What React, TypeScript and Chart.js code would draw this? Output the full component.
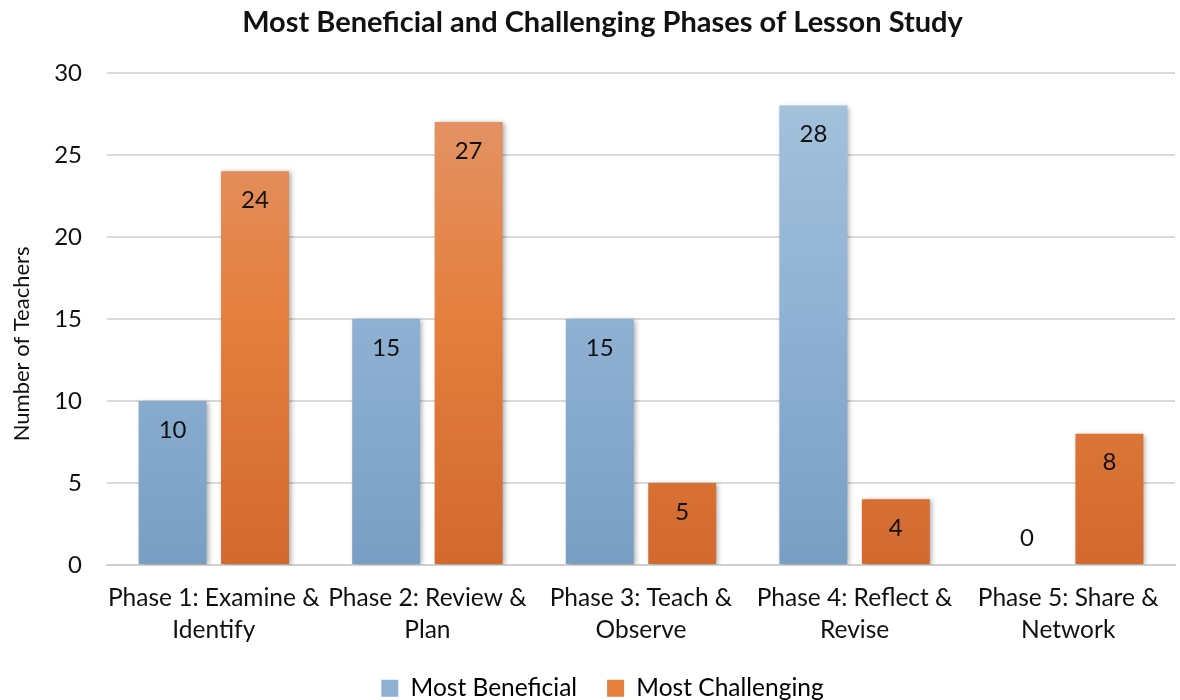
import React, { useEffect, useRef } from "react";
import { Chart, registerables } from "chart.js";

Chart.register(...registerables);

const categories: string[][] = [
  ["Phase 1: Examine &", "Identify"],
  ["Phase 2: Review &", "Plan"],
  ["Phase 3: Teach &", "Observe"],
  ["Phase 4: Reflect &", "Revise"],
  ["Phase 5: Share &", "Network"],
];
const mostBeneficial: number[] = [10, 15, 15, 28, 0];
const mostChallenging: number[] = [24, 27, 5, 4, 8];
const yTicks: number[] = [0, 5, 10, 15, 20, 25, 30];
const yTitle = "Number of Teachers";

const FONT = "Lato, 'Open Sans', sans-serif";

function makeGradient(ctx: any, area: any, top: string, mid: string, bottom: string) {
  const g = ctx.createLinearGradient(0, area.top, 0, area.bottom);
  g.addColorStop(0, top);
  g.addColorStop(0.5, mid);
  g.addColorStop(1, bottom);
  return g;
}

const shadowPlugin = {
  id: "barShadow",
  beforeDatasetsDraw(chart: any) {
    const ctx = chart.ctx;
    ctx.save();
    ctx.shadowColor = "rgba(0,0,0,0.35)";
    ctx.shadowBlur = 5;
    ctx.shadowOffsetX = 2;
    ctx.shadowOffsetY = 1;
  },
  afterDatasetsDraw(chart: any) {
    chart.ctx.restore();
  },
};

const labelPlugin = {
  id: "barLabels",
  afterDatasetsDraw(chart: any) {
    const ctx = chart.ctx;
    ctx.save();
    ctx.font = `24px ${FONT}`;
    ctx.fillStyle = "#111";
    ctx.textAlign = "center";
    ctx.textBaseline = "middle";
    chart.data.datasets.forEach((ds: any, i: number) => {
      const meta = chart.getDatasetMeta(i);
      meta.data.forEach((bar: any, j: number) => {
        const v = ds.data[j];
        const y = v > 0 ? bar.y + 29 : bar.base - 27;
        ctx.fillText(String(v), bar.x, y);
      });
    });
    ctx.restore();
  },
};

const yTitlePlugin = {
  id: "yTitle",
  afterDraw(chart: any) {
    const ctx = chart.ctx;
    const area = chart.chartArea;
    ctx.save();
    ctx.font = `22px ${FONT}`;
    ctx.fillStyle = "#111";
    ctx.textAlign = "center";
    ctx.textBaseline = "middle";
    ctx.translate(22, (area.top + area.bottom) / 2 + 25);
    ctx.rotate(-Math.PI / 2);
    ctx.fillText(yTitle, 0, 0);
    ctx.restore();
  },
};

export default function App() {
  const ref = useRef<HTMLCanvasElement | null>(null);
  useEffect(() => {
    if (!ref.current) return;
    const chart = new Chart(ref.current, {
      type: "bar",
      data: {
        labels: categories,
        datasets: [
          {
            label: "Most Beneficial",
            data: mostBeneficial,
            backgroundColor: (c: any) => {
              const area = c.chart.chartArea;
              if (!area) return "#8FB1D3";
              return makeGradient(c.chart.ctx, area, "#A5C3DC", "#8FB1D3", "#789FC3");
            },
            borderWidth: 0,
            categoryPercentage: 0.772,
            barPercentage: 0.824,
          },
          {
            label: "Most Challenging",
            data: mostChallenging,
            backgroundColor: (c: any) => {
              const area = c.chart.chartArea;
              if (!area) return "#E47F3E";
              return makeGradient(c.chart.ctx, area, "#E3966C", "#E47F3E", "#D2692F");
            },
            borderWidth: 0,
            categoryPercentage: 0.772,
            barPercentage: 0.824,
          },
        ],
      },
      options: {
        responsive: false,
        animation: false,
        layout: { padding: { left: 30, right: 5, top: 0, bottom: -10.5 } },
        plugins: {
          title: {
            display: true,
            text: "Most Beneficial and Challenging Phases of Lesson Study",
            font: { family: FONT, size: 29, weight: "bold" },
            color: "#111",
            padding: { top: 5, bottom: 33 },
          },
          legend: {
            position: "bottom",
            labels: {
              font: { family: FONT, size: 24.5 },
              color: "#111",
              boxWidth: 17,
              boxHeight: 17,
              padding: 30,
              generateLabels: (chart: any) => [
                { text: "Most Beneficial", fillStyle: "#8FB1D3", strokeStyle: "#8FB1D3", lineWidth: 0, datasetIndex: 0 },
                { text: "Most Challenging", fillStyle: "#E47F3E", strokeStyle: "#E47F3E", lineWidth: 0, datasetIndex: 1 },
              ],
            },
          },
          tooltip: { enabled: false },
        },
        scales: {
          x: {
            grid: { display: false, drawTicks: false },
            border: { display: true, color: "#D0D0D0", width: 2 },
            ticks: {
              font: { family: FONT, size: 24.5, lineHeight: 1.32 },
              color: "#111",
              padding: 17,
              maxRotation: 0,
              autoSkip: false,
            },
            afterFit: (axis: any) => {
              axis.height = 81;
            },
          },
          y: {
            min: 0,
            max: 30,
            afterBuildTicks: (axis: any) => {
              axis.ticks = yTicks.map((v) => ({ value: v }));
            },
            afterFit: (axis: any) => {
              axis.width = 77;
            },
            grid: { color: "#D9D9D9", lineWidth: 2, drawTicks: false },
            border: { display: false },
            ticks: {
              font: { family: FONT, size: 24 },
              color: "#111",
              padding: 25,
            },
          },
        },
      },
      plugins: [shadowPlugin, labelPlugin, yTitlePlugin],
    });
    return () => chart.destroy();
  }, []);
  return (
    <div style={{ position: "absolute", left: 0, top: 0, width: 1180, height: 700, background: "#fff" }}>
      <canvas ref={ref} width={1180} height={700} style={{ width: 1180, height: 700 }} />
    </div>
  );
}
